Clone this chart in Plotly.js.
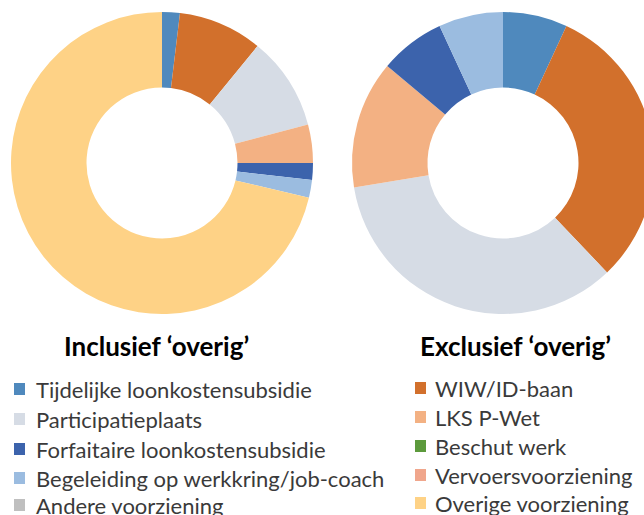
<!DOCTYPE html>
<html><head><meta charset="utf-8">
<script src="https://cdn.plot.ly/plotly-3.0.1.min.js"></script>
<style>html,body{margin:0;padding:0;overflow:hidden;background:#fff}</style>
</head><body><div id="chart"></div>
<script>
// Categories (legend order: row by row, left column then right column)
const labels = [
  "Tijdelijke loonkostensubsidie", "WIW/ID-baan",
  "Participatieplaats", "LKS P-Wet",
  "Forfaitaire loonkostensubsidie", "Beschut werk",
  "Begeleiding op werkkring/job-coach", "Vervoersvoorziening",
  "Andere voorziening", "Overige voorziening"
];
const colors = [
  "#4f89bd", "#d2702c",
  "#d6dce5", "#f3b183",
  "#3c63ac", "#5c9a3c",
  "#9bbce0", "#f0a68c",
  "#bfbfbf", "#fed286"
];
// Shares (%) including 'overig'
const valuesIncl = [1.9, 9.0, 10.0, 4.1, 1.8, 0, 1.9, 0, 0, 71.3];
// Shares (%) excluding 'overig'
const labelsExcl = labels.slice(0, 9);
const valuesExcl = [6.9, 31.0, 34.5, 13.7, 7.0, 0, 6.9, 0, 0];
const titles = ["Inclusief \u2018overig\u2019", "Exclusief \u2018overig\u2019"];

const W = 660, H = 515;
const px = x => x / W;
const py = y => 1 - y / H;

const traces = [
  {type: "pie", labels: labels, values: valuesIncl, hole: 0.5, sort: false,
   direction: "clockwise", rotation: 0, textinfo: "none", hoverinfo: "label+percent",
   marker: {colors: colors, line: {width: 0}},
   domain: {x: [px(11), px(313)], y: [py(314), py(12)]}, showlegend: false},
  {type: "pie", labels: labelsExcl, values: valuesExcl, hole: 0.5, sort: false,
   direction: "clockwise", rotation: 0, textinfo: "none", hoverinfo: "label+percent",
   marker: {colors: colors.slice(0, 9), line: {width: 0}},
   domain: {x: [px(352), px(654)], y: [py(314), py(12)]}, showlegend: false}
];

const annotations = [];
const shapes = [];
const titleFont = {family: "Lato", size: 26, color: "#000000"};
annotations.push({xref: "paper", yref: "paper", x: px(156), y: py(346), text: "<b>" + titles[0] + "</b>",
  showarrow: false, xanchor: "center", yanchor: "middle", font: titleFont});
annotations.push({xref: "paper", yref: "paper", x: px(515), y: py(346), text: "<b>" + titles[1] + "</b>",
  showarrow: false, xanchor: "center", yanchor: "middle", font: titleFont});

const legFont = {family: "Lato", size: 22, color: "#3a3a3a"};
const rowsL = [389, 419, 449, 478, 505];
const rowsR = [388, 417, 446, 475, 503];
labels.forEach((lab, i) => {
  const col = i % 2, row = Math.floor(i / 2);
  const cy = col === 0 ? rowsL[row] : rowsR[row];
  const sx = col === 0 ? 14 : 415;
  const tx = col === 0 ? 34 : 433;
  shapes.push({type: "rect", xref: "paper", yref: "paper", x0: px(sx), x1: px(sx + 11),
    y0: py(cy + 6), y1: py(cy - 6), line: {width: 0}, fillcolor: colors[i]});
  annotations.push({xref: "paper", yref: "paper", x: px(tx), y: py(cy), text: lab,
    showarrow: false, xanchor: "left", yanchor: "middle", font: legFont});
});

Plotly.newPlot("chart", traces, {
  width: W, height: H, margin: {l: 0, r: 0, t: 0, b: 0},
  paper_bgcolor: "#ffffff", plot_bgcolor: "#ffffff",
  showlegend: false, annotations: annotations, shapes: shapes
}, {displayModeBar: false, staticPlot: true});
</script></body></html>
